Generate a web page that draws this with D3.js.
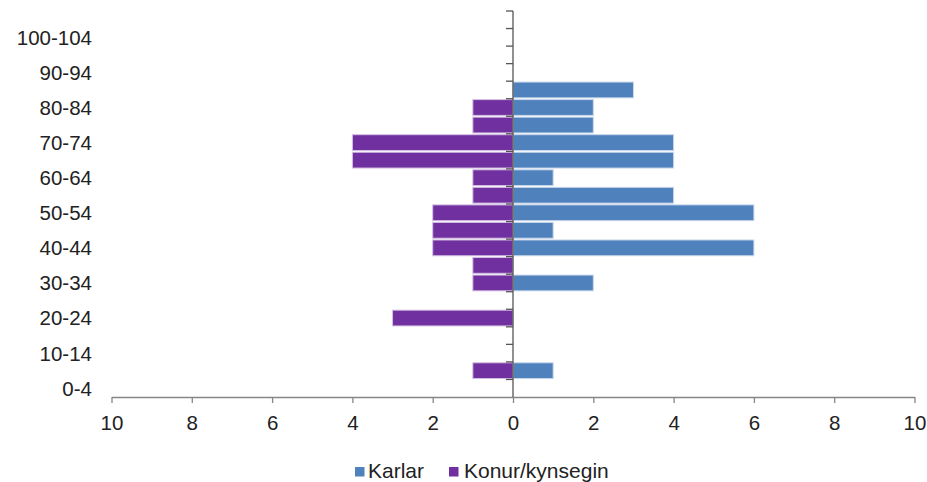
<!DOCTYPE html>
<html>
<head>
<meta charset="utf-8">
<script src="https://cdn.jsdelivr.net/npm/d3@7"></script>
<style>
  html, body { margin: 0; padding: 0; background: #fff; }
  svg { display: block; font-family: "Liberation Sans", Arial, sans-serif; }
</style>
</head>
<body>
<svg id="chart" width="927" height="482"></svg>
<script>
const categories = ["0-4","5-9","10-14","15-19","20-24","25-29","30-34","35-39","40-44","45-49",
  "50-54","55-59","60-64","65-69","70-74","75-79","80-84","85-89","90-94","95-99","100-104","105-109"];
const karlar = [0,1,0,0,0,0,2,0,6,1,6,4,1,4,4,2,2,3,0,0,0,0];
const konur  = [0,1,0,0,3,0,1,1,2,2,2,1,1,4,4,1,1,0,0,0,0,0];
const yTickLabels = ["0-4","10-14","20-24","30-34","40-44","50-54","60-64","70-74","80-84","90-94","100-104"];
const xTickValues = [-10,-8,-6,-4,-2,0,2,4,6,8,10];
const seriesNames = ["Karlar","Konur/kynsegin"];
const colors = {Karlar: "#4F81BD", "Konur/kynsegin": "#7030A0"};

(function () {
const svg = d3.select("#chart");
const mLeft = 111.5, mRight = 914.5, mTop = 11, mBottom = 397;
const fs = 20.5;

const x = d3.scaleLinear().domain([-10, 10]).range([mLeft, mRight]);
const y = d3.scaleBand().domain(categories.slice().reverse()).range([mTop, mBottom]).paddingInner(0.1).paddingOuter(0.05);
const yb = d3.scaleBand().domain(categories.slice().reverse()).range([mTop, mBottom]);

const axisColor = "#868686";

// bars
const g = svg.append("g");
g.selectAll("rect.m").data(categories.map((c,i)=>({c, v:karlar[i]})).filter(d=>d.v>0))
  .join("rect").attr("class","m")
  .attr("x", x(0)).attr("width", d => x(d.v) - x(0))
  .attr("y", d => y(d.c)).attr("height", y.bandwidth())
  .attr("fill", colors.Karlar).attr("stroke", "#c9d7ea").attr("stroke-width", 1);
g.selectAll("rect.f").data(categories.map((c,i)=>({c, v:konur[i]})).filter(d=>d.v>0))
  .join("rect").attr("class","f")
  .attr("x", d => x(-d.v)).attr("width", d => x(0) - x(-d.v))
  .attr("y", d => y(d.c)).attr("height", y.bandwidth())
  .attr("fill", colors["Konur/kynsegin"]).attr("stroke", "#d4c0e3").attr("stroke-width", 1);

// bottom axis
const xAxis = d3.axisBottom(x).tickValues(xTickValues).tickFormat(d => Math.abs(d)).tickSize(6).tickSizeOuter(0);
const gx = svg.append("g").attr("transform", `translate(0,${mBottom})`).call(xAxis);
gx.select(".domain").attr("stroke", axisColor).attr("stroke-width", 1.3);
gx.selectAll(".tick line").attr("stroke", axisColor).attr("stroke-width", 1.3);
gx.selectAll(".tick text").attr("fill", "#222").attr("font-size", fs).attr("y", 33).attr("dy", 0)
  .attr("font-family", "'Liberation Sans', Arial, sans-serif");

// center vertical axis with ticks at category boundaries
const gc = svg.append("g");
gc.append("line").attr("x1", x(0)).attr("x2", x(0)).attr("y1", mTop).attr("y2", mBottom)
  .attr("stroke", "#555").attr("stroke-width", 1.3);
const boundaries = yb.domain().map(c => yb(c));
gc.selectAll("line.t").data(boundaries).join("line").attr("class","t")
  .attr("x1", x(0) - 7).attr("x2", x(0)).attr("y1", d => d).attr("y2", d => d)
  .attr("stroke", "#555").attr("stroke-width", 1.3);

// y labels
svg.append("g").selectAll("text").data(yTickLabels).join("text")
  .attr("x", 92).attr("y", d => yb(d) + yb.bandwidth()/2)
  .attr("dy", "0.36em").attr("text-anchor", "end")
  .attr("font-size", fs).attr("fill", "#222").text(d => d);

// legend
const legend = svg.append("g");
const legendItems = [{name: seriesNames[0], sx: 355, tx: 368}, {name: seriesNames[1], sx: 449, tx: 464}];
legendItems.forEach(it => {
  legend.append("rect").attr("x", it.sx).attr("y", 467).attr("width", 9.5).attr("height", 9.5).attr("fill", colors[it.name]);
  legend.append("text").attr("x", it.tx).attr("y", 478).attr("font-size", 21).attr("fill", "#222").text(it.name);
});
})();
</script>
</body>
</html>
